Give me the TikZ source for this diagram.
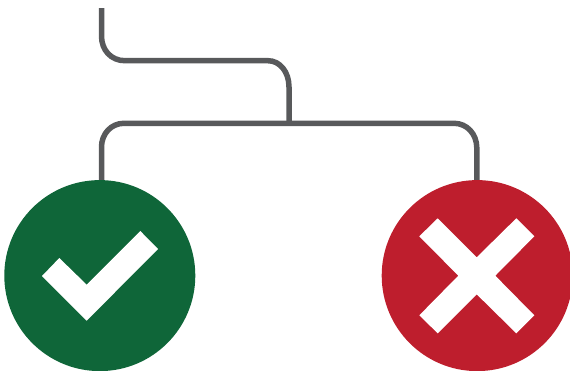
\documentclass[tikz,border=0pt]{standalone}
\definecolor{lineg}{HTML}{58595B}
\definecolor{okg}{HTML}{0F6639}
\definecolor{nor}{HTML}{BE1E2D}
\tikzset{x=1pt,y=-1pt,
 conn/.style={draw=lineg,line width=5.5pt},
 okc/.style={circle,fill=okg,minimum size=191pt,inner sep=0pt},
 noc/.style={circle,fill=nor,minimum size=191pt,inner sep=0pt},
 glyph/.style={fill=white}}
\begin{document}
\begin{tikzpicture}
\useasboundingbox (0,0) rectangle (570,370);
\coordinate (start) at (101.5,8);
\coordinate (junc) at (289,123.3);
\coordinate (okt) at (101.5,185);
\coordinate (not) at (476.8,185);
\draw[conn] (start) -- (101.5,36) .. controls (101.5,50) and (111,60.7) .. (125,60.7) -- (268,60.7) .. controls (280,60.7) and (289,72) .. (289,87) -- (junc);
\draw[conn] (okt) -- (101.5,147) .. controls (101.5,134) and (111,123.3) .. (124,123.3) -- (454,123.3) .. controls (467,123.3) and (476.8,134) .. (476.8,148) -- (not);
\node[okc] (ok) at (99.8,275.6) {};
\node[noc] (no) at (477.2,275.6) {};
\fill[glyph] (42,276) -- (59.3,258) -- (86.7,284.7) -- (140.3,231) -- (158,249) -- (86.7,320.7) -- cycle;
\fill[glyph] (419.3,236.3) -- (437.7,218.3) -- (476.7,257.3) -- (516.3,218.3) -- (534.3,236.3) -- (495.3,275.7) -- (534.3,315.3) -- (516.3,333.3) -- (476.7,294.3) -- (437.7,333.3) -- (419.3,315.3) -- (458.3,275.7) -- cycle;
\end{tikzpicture}
\end{document}
